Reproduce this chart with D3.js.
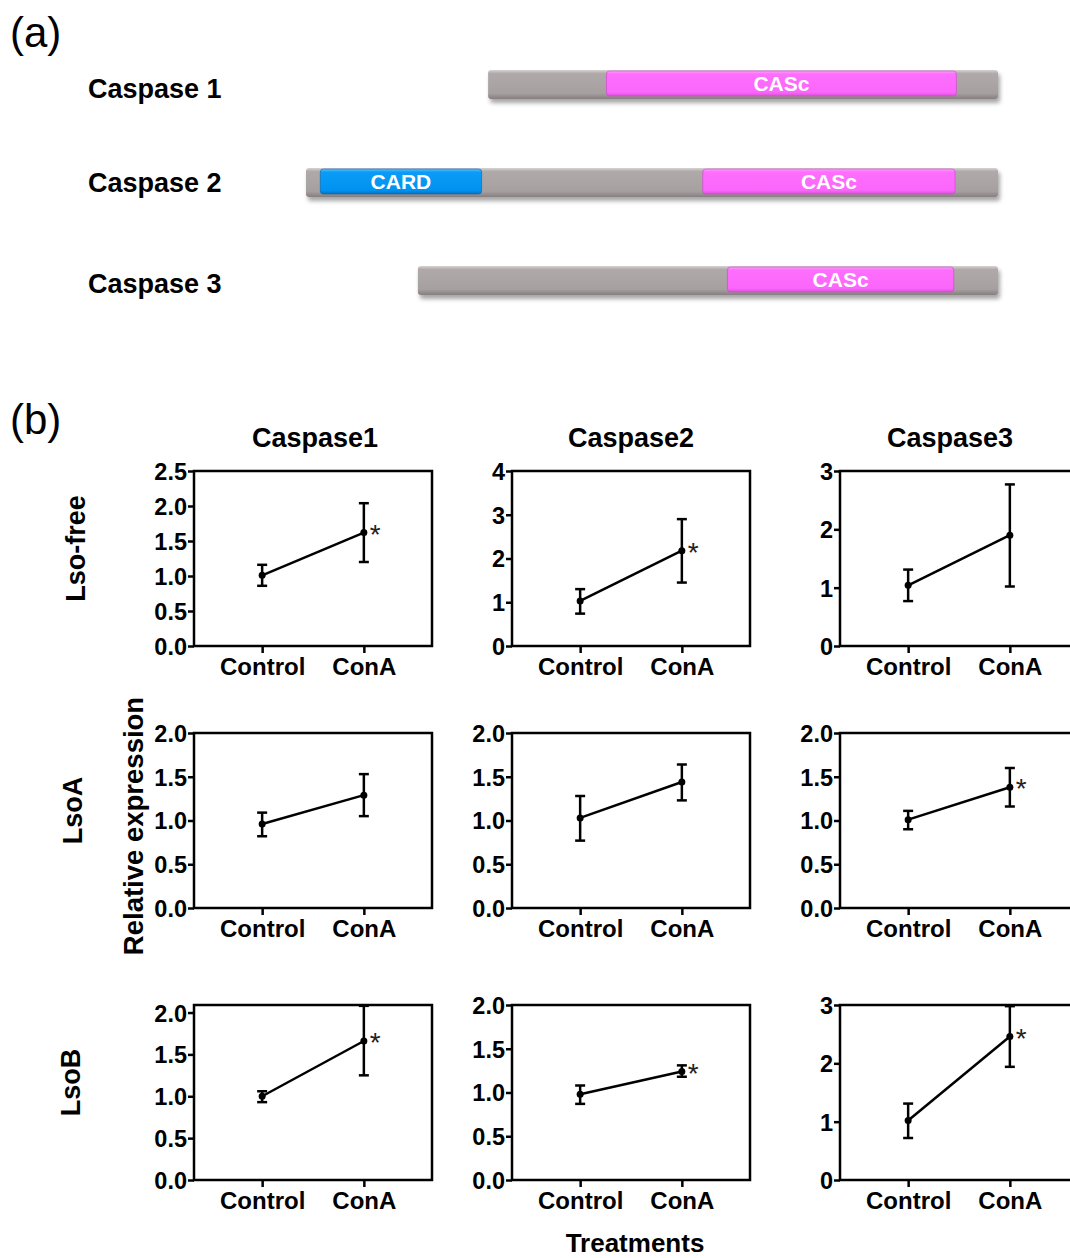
<!DOCTYPE html>
<html>
<head>
<meta charset="utf-8">
<script src="https://cdn.jsdelivr.net/npm/d3@7"></script>
<style>
  body { margin: 0; background: #fff; }
  svg { display: block; font-family: "Liberation Sans", Arial, sans-serif; }
</style>
</head>
<body>
<svg id="fig" width="1070" height="1258"></svg>
<script>

// (a) domain architecture
const proteins = ["Caspase 1", "Caspase 2", "Caspase 3"];
const proteinLengths = [392, 532, 446];
const domains = [
    { protein: 0, name: "CASc", start: 91,  end: 360, type: "casc" },
    { protein: 1, name: "CARD", start: 11,  end: 135, type: "card" },
    { protein: 1, name: "CASc", start: 305, end: 499, type: "casc" },
    { protein: 2, name: "CASc", start: 238, end: 412, type: "casc" }
];

// (b) relative expression, rows = conditions, cols = genes, [Control, ConA]
const genes = ["Caspase1", "Caspase2", "Caspase3"];
const conditions = ["Lso-free", "LsoA", "LsoB"];
const treatments = ["Control", "ConA"];

const means = [
    [[1.01, 1.62], [1.03, 2.18], [1.04, 1.90]],
    [[0.96, 1.29], [1.03, 1.44], [1.01, 1.38]],
    [[1.00, 1.66], [0.98, 1.24], [1.02, 2.46]]
];
const lowers = [
    [[0.86, 1.20], [0.74, 1.45], [0.77, 1.02]],
    [[0.82, 1.05], [0.77, 1.23], [0.90, 1.16]],
    [[0.93, 1.25], [0.87, 1.18], [0.72, 1.94]]
];
const uppers = [
    [[1.16, 2.04], [1.30, 2.90], [1.31, 2.77]],
    [[1.09, 1.53], [1.28, 1.64], [1.11, 1.60]],
    [[1.06, 2.08], [1.08, 1.31], [1.31, 2.98]]
];
const significant = [
    [true, true, false],
    [false, false, true],
    [true, true, true]
];

const yMax = [[2.5, 4, 3], [2, 2, 2], [2.09, 2, 3]];
const yStep = [[0.5, 1, 1], [0.5, 0.5, 0.5], [0.5, 0.5, 1]];

const svg = d3.select("#fig");

class Draw {

    //
    // DEFS
    //

    static drawDefs() {
        let defs = svg.append("defs");

        const grad = (id, stops) => {
            let g = defs.append("linearGradient")
                .attr("id", id)
                .attr("x1", 0).attr("y1", 0).attr("x2", 0).attr("y2", 1);
            stops.forEach(s => g.append("stop").attr("offset", s[0]).attr("stop-color", s[1]));
        };

        grad("g_gray", [[0, "#d8d3d3"], [0.12, "#b0a9a9"], [0.8, "#a7a0a0"], [1, "#857f7f"]]);
        grad("g_casc", [[0, "#ffa0ff"], [0.12, "#fd6ffd"], [0.85, "#fb66fb"], [1, "#dd4fdd"]]);
        grad("g_card", [[0, "#66c4ff"], [0.12, "#0a9cf6"], [0.85, "#0092f0"], [1, "#0073c4"]]);

        defs.append("filter")
            .attr("id", "shadow")
            .attr("x", "-5%").attr("y", "-30%").attr("width", "110%").attr("height", "180%")
            .append("feDropShadow")
                .attr("dx", 2).attr("dy", 4)
                .attr("stdDeviation", 2)
                .attr("flood-color", "#000")
                .attr("flood-opacity", 0.35);
    }

    //
    // PART A
    //

    static drawDomains() {
        let right = 998;
        let barTop = [70, 168, 266];
        let labelY = [98, 192, 293];
        let barH = 29;

        let x = d3.scaleLinear()
            .domain([0, d3.max(proteinLengths)])
            .range([0, 692]);

        svg.append("text")
            .attr("x", 10).attr("y", 47)
            .style("font-size", "42px")
            .text("(a)");

        let g = svg.append("g").attr("id", "domains");

        proteins.forEach((p, i) => {
            let x0 = right - x(proteinLengths[i]);

            g.append("text")
                .attr("x", 88)
                .attr("y", labelY[i])
                .style("font-size", "27px")
                .style("font-weight", "bold")
                .text(p);

            g.append("rect")
                .attr("x", x0)
                .attr("y", barTop[i])
                .attr("width", x(proteinLengths[i]))
                .attr("height", barH)
                .attr("rx", 3)
                .attr("fill", "url(#g_gray)")
                .attr("filter", "url(#shadow)");

            domains.filter(d => d.protein === i).forEach(d => {
                g.append("rect")
                    .attr("x", x0 + x(d.start))
                    .attr("y", barTop[i] + 1)
                    .attr("width", x(d.end) - x(d.start))
                    .attr("height", barH - 4)
                    .attr("rx", 3)
                    .attr("fill", "url(#g_" + d.type + ")")
                    .attr("stroke", d.type === "card" ? "#0066b0" : "#d040d0")
                    .attr("stroke-width", 0.6);

                g.append("text")
                    .attr("x", x0 + (x(d.start) + x(d.end)) / 2)
                    .attr("y", barTop[i] + barH / 2 + 6)
                    .attr("text-anchor", "middle")
                    .style("font-size", "21px")
                    .style("font-weight", "bold")
                    .style("fill", "#fff")
                    .text(d.name);
            });
        });
    }

    //
    // PART B
    //

    static drawPanels() {
        let colLeft = [194, 512, 840];
        let rowTop = [471, 733, 1005];
        let titleX = [315, 631, 950];
        let w = 238, h = 175;

        svg.append("text")
            .attr("x", 10).attr("y", 434)
            .style("font-size", "42px")
            .text("(b)");

        genes.forEach((gname, c) => {
            svg.append("text")
                .attr("x", titleX[c])
                .attr("y", 447)
                .attr("text-anchor", "middle")
                .style("font-size", "27px")
                .style("font-weight", "bold")
                .text(gname);
        });

        let rowLabelX = [85, 82, 80];
        conditions.forEach((cname, r) => {
            svg.append("text")
                .attr("transform", `translate(${rowLabelX[r]}, ${rowTop[r] + h / 2 - 10}) rotate(-90)`)
                .attr("text-anchor", "middle")
                .style("font-size", "27px")
                .style("font-weight", "bold")
                .text(cname);
        });

        svg.append("text")
            .attr("transform", `translate(143, 826) rotate(-90)`)
            .attr("text-anchor", "middle")
            .style("font-size", "27.5px")
            .style("font-weight", "bold")
            .text("Relative expression");

        svg.append("text")
            .attr("x", 635).attr("y", 1252)
            .attr("text-anchor", "middle")
            .style("font-size", "26px")
            .style("font-weight", "bold")
            .text("Treatments");

        conditions.forEach((cname, r) => {
            genes.forEach((gname, c) => {
                Draw.drawPanel(colLeft[c], rowTop[r], w, h, r, c);
            });
        });
    }

    static drawPanel(left, top, w, h, r, c) {

        let g = svg.append("g")
            .attr("class", "panel")
            .attr("transform", `translate(${left}, ${top})`);

        let x = d3.scalePoint()
            .domain(treatments)
            .range([0, w])
            .padding(0.67);

        let y = d3.scaleLinear()
            .domain([0, yMax[r][c]])
            .range([h, 0]);

        let step = yStep[r][c];
        let ticks = d3.range(0, yMax[r][c] + 1e-6, step);
        let fmt = step < 1 ? d3.format(".1f") : d3.format("d");

        // box
        g.append("rect")
            .attr("width", w)
            .attr("height", h)
            .attr("fill", "none")
            .attr("stroke", "#000")
            .attr("stroke-width", 2.5);

        let yAxis = g.append("g")
            .call(d3.axisLeft(y).tickValues(ticks).tickFormat(fmt).tickSize(6).tickPadding(1));

        yAxis.select(".domain").remove();
        yAxis.selectAll("line").attr("stroke-width", 2.5);
        yAxis.selectAll("text")
            .style("font-size", "23.5px")
            .style("font-weight", "bold")
            .style("font-family", "'Liberation Sans', Arial, sans-serif")
            .attr("dy", "0.36em");

        let xAxis = g.append("g")
            .attr("transform", `translate(0, ${h})`)
            .call(d3.axisBottom(x).tickSize(7).tickPadding(5));

        xAxis.select(".domain").remove();
        xAxis.selectAll("line").attr("stroke-width", 2.5);
        xAxis.selectAll("text")
            .style("font-size", "24px")
            .style("font-weight", "bold")
            .style("font-family", "'Liberation Sans', Arial, sans-serif");

        let pts = treatments.map((t, i) => ({
            t: t,
            m: means[r][c][i],
            lo: lowers[r][c][i],
            hi: uppers[r][c][i]
        }));

        // error bars
        let eb = g.append("g").attr("class", "errorbars")
            .selectAll("g")
            .data(pts)
            .enter().append("g")
                .attr("stroke", "#000")
                .attr("stroke-width", 2.5);

        eb.append("line")
            .attr("x1", d => x(d.t)).attr("x2", d => x(d.t))
            .attr("y1", d => y(d.lo)).attr("y2", d => y(d.hi));

        eb.append("line")
            .attr("x1", d => x(d.t) - 5).attr("x2", d => x(d.t) + 5)
            .attr("y1", d => y(d.lo)).attr("y2", d => y(d.lo));

        eb.append("line")
            .attr("x1", d => x(d.t) - 5).attr("x2", d => x(d.t) + 5)
            .attr("y1", d => y(d.hi)).attr("y2", d => y(d.hi));

        g.append("path")
            .datum(pts)
            .attr("fill", "none")
            .attr("stroke", "#000")
            .attr("stroke-width", 2.5)
            .attr("d", d3.line()
                .x(d => x(d.t))
                .y(d => y(d.m))
            );

        g.selectAll("circle")
            .data(pts)
            .enter().append("circle")
                .attr("cx", d => x(d.t))
                .attr("cy", d => y(d.m))
                .attr("r", 3.5)
                .attr("fill", "#000");

        if (significant[r][c]) {
            let last = pts[1];
            g.append("text")
                .attr("x", x(last.t) + 6)
                .attr("y", y(last.m) + 11)
                .style("font-size", "28px")
                .style("fill", "#222")
                .text("*");
        }
    }
}

Draw.drawDefs();
Draw.drawDomains();
Draw.drawPanels();

</script>
</body>
</html>
